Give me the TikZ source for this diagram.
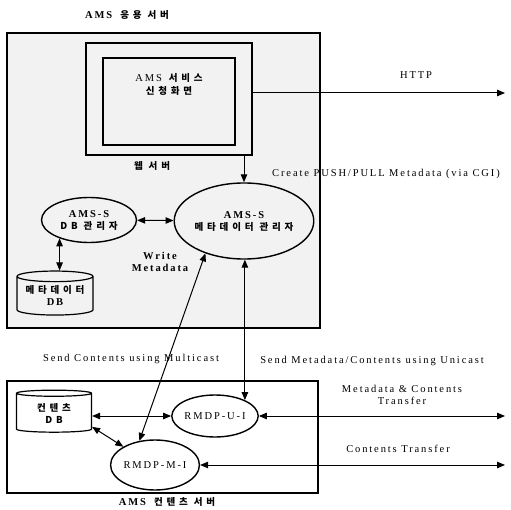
\documentclass[tikz,border=0pt]{standalone}
\usepackage{fontspec}
\setmainfont{Liberation Serif}[LetterSpace=18]
\newfontfamily\krfont{Noto Sans CJK KR}[LetterSpace=40]
\usetikzlibrary{arrows.meta, positioning, shapes.geometric}
\newcommand\kr[1]{{\krfont\bfseries\fontsize{9.5}{11}\selectfont #1}}

\begin{document}
\begin{tikzpicture}[
  x=1pt, y=1pt,
  font=\fontsize{10.5}{12}\selectfont,
  >={Triangle[length=8pt, width=6.5pt]},
  frame/.style={draw, line width=1.3pt, inner sep=0pt},
  proc/.style={ellipse, draw, line width=1.4pt, align=center, inner sep=0pt},
  store/.style={cylinder, shape border rotate=90, draw, line width=1.2pt,
                aspect=0.18, align=center, inner sep=0pt},
  lbl/.style={align=center, inner sep=1pt},
  title/.style={lbl, font=\fontsize{10.5}{12}\selectfont\bfseries},
  arr/.style={->, line width=1pt},
  dbl/.style={<->, line width=1pt},
  ]
\useasboundingbox (0,0) rectangle (511,-510);

% AMS application server
\node[frame, fill=black!5, minimum width=313pt, minimum height=295pt] (app) at (163.5,-180.5) {};
\node[title] (apptitle) at (127,-15) {AMS\hspace{8pt}\kr{응용 서버}};

\node[frame, minimum width=166pt, minimum height=112pt] (webout) at (169,-99) {};
\node[frame, minimum width=132pt, minimum height=87pt] (webin) at (169,-101.5) {};
\node[lbl] (websvc) at (169,-84) {AMS\hspace{7pt}\kr{서비스}\\[1pt]\kr{신청화면}};
\node[lbl] (weblbl) at (152,-166) {\kr{웹 서버}};

\node[proc, minimum width=128pt, minimum height=76pt] (mdm) at (244,-221)
  {\bfseries AMS-S\\\kr{메타데이터 관리자}};
\node[proc, minimum width=95pt, minimum height=45pt] (dbm) at (89,-220)
  {\bfseries AMS-S\\\kr{DB 관리자}};
\node[store, minimum width=76pt, minimum height=44pt] (mdb) at (55,-296)
  {\kr{메타데이터}\\\bfseries DB};
\node[title] (wrlbl) at (160,-262) {Write\\Metadata};

% AMS contents server
\node[frame, minimum width=311pt, minimum height=112pt] (cnt) at (162.5,-437) {};
\node[title] (cnttitle) at (167,-502) {AMS\hspace{8pt}\kr{컨텐츠 서버}};
\node[store, minimum width=75pt, minimum height=42pt] (cdb) at (54,-413)
  {\kr{컨텐츠}\\\kr{DB}};
\node[proc, minimum width=86pt, minimum height=42pt] (rmdpu) at (215,-416) {RMDP-U-I};
\node[proc, minimum width=86pt, minimum height=50pt] (rmdpm) at (155,-465) {RMDP-M-I};

% labels
\node[lbl] (httplbl) at (416,-75) {HTTP};
\node[lbl] (cgilbl) at (386,-174) {Create PUSH/PULL Metadata (via CGI)};
\node[lbl] (mclbl) at (131,-359) {Send Contents using Multicast};
\node[lbl] (uclbl) at (372,-361) {Send Metadata/Contents using Unicast};
\node[lbl] (mctlbl) at (402,-395) {Metadata \& Contents\\Transfer};
\node[lbl] (ctlbl) at (398,-449) {Contents Transfer};

\coordinate (httpend) at (505,-93);
\coordinate (uend) at (505,-416);
\coordinate (mend) at (505,-465);

% connectors
\draw[arr] (webout.east |- httpend) -- (httpend);
\draw[arr] (mdm.north |- webout.south) -- (mdm.north);
\draw[dbl] (dbm) -- (mdm);
\draw[dbl] (dbm.-148) -- (dbm.-148 |- mdb.north);
\draw[dbl] (rmdpm.123) -- (mdm.-140);
\draw[dbl] (rmdpu.28) -- (rmdpu.28 |- mdm.south);
\draw[dbl] (cdb.east |- rmdpu.west) -- (rmdpu.west);
\draw[dbl] (cdb.-20) -- (rmdpm.150);
\draw[dbl] (rmdpu) -- (uend);
\draw[dbl] (rmdpm) -- (mend);
\end{tikzpicture}
\end{document}
